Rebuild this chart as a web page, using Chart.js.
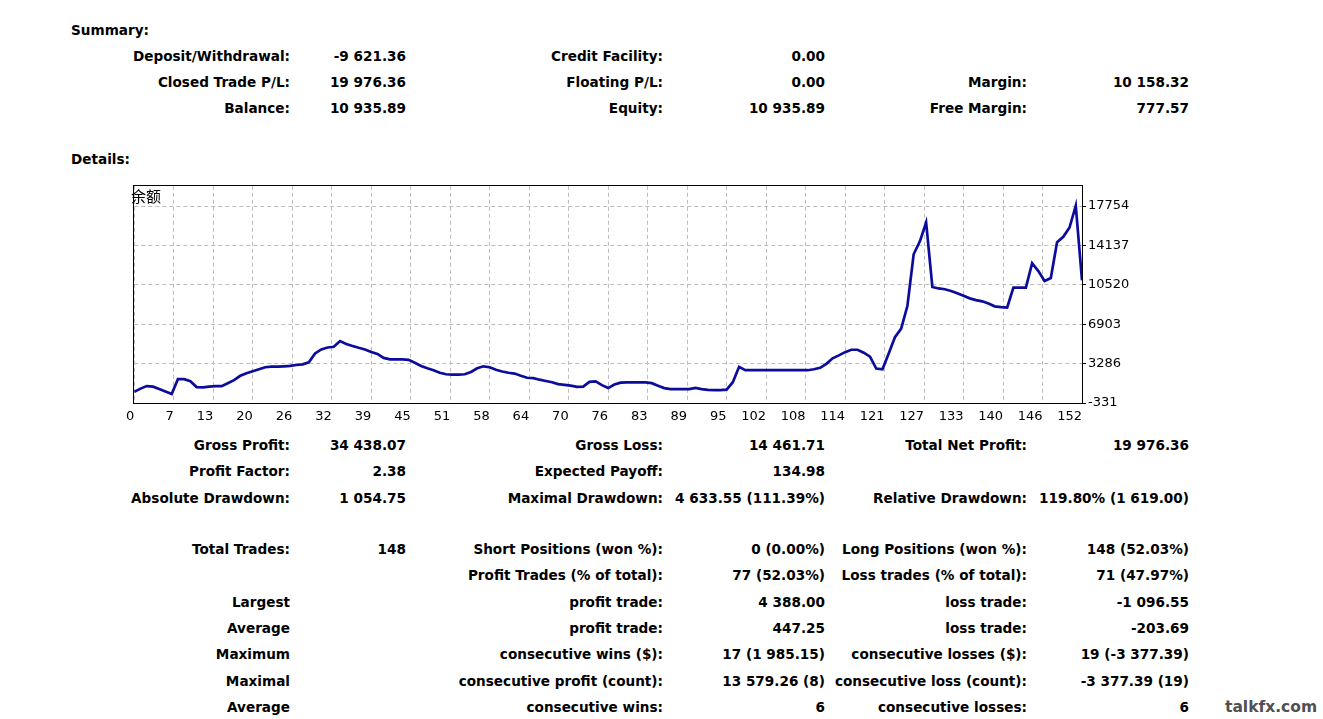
<!DOCTYPE html>
<html lang="en">
<head>
<meta charset="UTF-8">
<title>Statement - Summary</title>
<script src="https://cdn.jsdelivr.net/npm/chart.js@4.4.1/dist/chart.umd.min.js"></script>
<style>
    * { margin: 0; padding: 0; box-sizing: border-box; }
    body {
        width: 1323px;
        height: 719px;
        background: #fff;
        position: relative;
        overflow: hidden;
        font-family: "DejaVu Sans", sans-serif;
    }
    .t {
        position: absolute;
        font-size: 13.6px;
        font-weight: bold;
        line-height: 16px;
        white-space: nowrap;
        color: #000;
    }
    .r { transform: translateX(-100%); }
    .mark { color: #505050; font-size: 15.5px; }
    #chartBox {
        position: absolute;
        left: 120px;
        top: 176px;
        width: 1020px;
        height: 250px;
    }
    #balLabel {
        position: absolute;
        left: 131px;
        top: 186px;
        font: 15px "Noto Sans CJK SC", sans-serif;
        line-height: 19px;
        color: #000;
    }
</style>
</head>
<body>

<div id="text"></div>

<div id="chartBox"><canvas id="balanceChart"></canvas></div>
<div id="balLabel">余额</div>

<script>
    // balance after each operation
    const balance = [
        700, 990, 1220, 1170, 950, 720, 490, 1860, 1860, 1670,
        1130, 1100, 1170, 1220, 1220, 1490, 1770, 2170, 2400, 2580,
        2770, 2950, 3010, 3010, 3040, 3080, 3160, 3220, 3400, 4220,
        4590, 4770, 4830, 5360, 5090, 4910, 4740, 4590, 4360, 4180,
        3810, 3680, 3680, 3680, 3630, 3360, 3070, 2860, 2680, 2450,
        2310, 2280, 2280, 2310, 2520, 2860, 3040, 2950, 2720, 2560,
        2450, 2370, 2170, 1990, 1950, 1810, 1690, 1580, 1400, 1330,
        1260, 1150, 1170, 1610, 1650, 1310, 1040, 1370, 1540, 1560,
        1560, 1560, 1560, 1490, 1260, 1040, 950, 950, 950, 950,
        1050, 950, 870, 850, 850, 900, 1580, 2990, 2680, 2680,
        2680, 2680, 2680, 2680, 2680, 2680, 2680, 2680, 2680, 2770,
        2900, 3270, 3770, 4040, 4340, 4560, 4560, 4290, 3920, 2830,
        2770, 4210, 5710, 6500, 8600, 13330, 14520, 16250, 10330, 10190,
        10120, 9960, 9750, 9510, 9280, 9120, 9010, 8800, 8550, 8480,
        8440, 10260, 10260, 10260, 12510, 11790, 10870, 11150, 14430, 14930,
        15790, 17800, 10936
    ];
    const tradeIdx = balance.map((v, i) => i);

    const xTickLabels = ['0', '7', '13', '20', '26', '32', '39', '45', '51', '58', '64', '70', '76',
        '83', '89', '95', '102', '108', '114', '121', '127', '133', '140', '146', '152'];
    const yTickValues = [-331, 3286, 6903, 10520, 14137, 17754];
    const yMin = -331;
    const yMax = 19620;
    const xMax = 152;

    // statement text: [y, rightEdgeX, text]
    const statementRows = [
        [56, 290, 'Deposit/Withdrawal:'], [56, 406, '-9 621.36'], [56, 663, 'Credit Facility:'], [56, 825, '0.00'],
        [82, 290, 'Closed Trade P/L:'], [82, 406, '19 976.36'], [82, 663, 'Floating P/L:'], [82, 825, '0.00'],
        [82, 1027, 'Margin:'], [82, 1189, '10 158.32'],
        [108, 290, 'Balance:'], [108, 406, '10 935.89'], [108, 663, 'Equity:'], [108, 825, '10 935.89'],
        [108, 1027, 'Free Margin:'], [108, 1189, '777.57'],
        [445, 290, 'Gross Profit:'], [445, 406, '34 438.07'], [445, 663, 'Gross Loss:'], [445, 825, '14 461.71'],
        [445, 1027, 'Total Net Profit:'], [445, 1189, '19 976.36'],
        [471, 290, 'Profit Factor:'], [471, 406, '2.38'], [471, 663, 'Expected Payoff:'], [471, 825, '134.98'],
        [498, 290, 'Absolute Drawdown:'], [498, 406, '1 054.75'], [498, 663, 'Maximal Drawdown:'],
        [498, 825, '4 633.55 (111.39%)'], [498, 1027, 'Relative Drawdown:'], [498, 1189, '119.80% (1 619.00)'],
        [549, 290, 'Total Trades:'], [549, 406, '148'], [549, 663, 'Short Positions (won %):'], [549, 825, '0 (0.00%)'],
        [549, 1027, 'Long Positions (won %):'], [549, 1189, '148 (52.03%)'],
        [575, 663, 'Profit Trades (% of total):'], [575, 825, '77 (52.03%)'],
        [575, 1027, 'Loss trades (% of total):'], [575, 1189, '71 (47.97%)'],
        [602, 290, 'Largest'], [602, 663, 'profit trade:'], [602, 825, '4 388.00'],
        [602, 1027, 'loss trade:'], [602, 1189, '-1 096.55'],
        [628, 290, 'Average'], [628, 663, 'profit trade:'], [628, 825, '447.25'],
        [628, 1027, 'loss trade:'], [628, 1189, '-203.69'],
        [654, 290, 'Maximum'], [654, 663, 'consecutive wins ($):'], [654, 825, '17 (1 985.15)'],
        [654, 1027, 'consecutive losses ($):'], [654, 1189, '19 (-3 377.39)'],
        [681, 290, 'Maximal'], [681, 663, 'consecutive profit (count):'], [681, 825, '13 579.26 (8)'],
        [681, 1027, 'consecutive loss (count):'], [681, 1189, '-3 377.39 (19)'],
        [707, 290, 'Average'], [707, 663, 'consecutive wins:'], [707, 825, '6'],
        [707, 1027, 'consecutive losses:'], [707, 1189, '6']
    ];

    const box = document.getElementById('text');
    function addText(txt, x, y, cls) {
        const d = document.createElement('div');
        d.className = 't ' + (cls || '');
        d.textContent = txt;
        d.style.left = x + 'px';
        d.style.top = (y - 8) + 'px';
        box.appendChild(d);
    }
    addText('Summary:', 71, 30);
    addText('Details:', 71, 159);
    statementRows.forEach(r => addText(r[2], r[1], r[0], 'r'));
    addText('talkfx.com', 1225, 707, 'mark');

    const framePlugin = {
        id: 'frame',
        afterDraw(chart) {
            const a = chart.chartArea;
            const ctx = chart.ctx;
            ctx.save();
            ctx.strokeStyle = '#000';
            ctx.lineWidth = 1;
            ctx.strokeRect(Math.round(a.left) - 0.5, Math.round(a.top) - 0.5,
                Math.round(a.right - a.left) + 1, Math.round(a.bottom - a.top) + 1);
            ctx.restore();
        }
    };

    new Chart(document.getElementById('balanceChart'), {
        type: 'line',
        data: {
            labels: tradeIdx,
            datasets: [{
                data: balance.map((v, i) => ({ x: tradeIdx[i], y: v })),
                borderColor: '#0c0c9c',
                borderWidth: 2.7,
                pointRadius: 0,
                tension: 0,
                fill: false
            }]
        },
        options: {
            responsive: true,
            maintainAspectRatio: false,
            animation: false,
            layout: { padding: { left: 8, top: 8, right: 0, bottom: 0 } },
            plugins: {
                legend: { display: false },
                tooltip: { enabled: false }
            },
            scales: {
                x: {
                    type: 'linear',
                    min: 0,
                    max: xMax,
                    afterBuildTicks: s => { s.ticks = xTickLabels.map((t, k) => ({ value: k * xMax / (xTickLabels.length - 1) })); },
                    afterFit: s => { s.height = 23; },
                    grid: { color: '#bdbdbd', lineWidth: 1, drawTicks: false },
                    border: { display: false, dash: [4, 3] },
                    ticks: {
                        autoSkip: false,
                        maxRotation: 0,
                        align: 'end',
                        padding: 6,
                        color: '#000',
                        font: { family: 'DejaVu Sans', size: 13 },
                        callback: (v, i) => xTickLabels[i]
                    }
                },
                y: {
                    position: 'right',
                    min: yMin,
                    max: yMax,
                    afterBuildTicks: s => { s.ticks = yTickValues.map(v => ({ value: v })); },
                    afterFit: s => { s.width = 58; },
                    grid: { color: '#bdbdbd', lineWidth: 1, drawTicks: true, tickLength: 4, tickColor: '#000' },
                    border: { display: false, dash: [4, 3] },
                    ticks: {
                        padding: 2,
                        color: '#000',
                        font: { family: 'DejaVu Sans', size: 13 },
                        callback: v => String(v)
                    }
                }
            }
        },
        plugins: [framePlugin]
    });
</script>
</body>
</html>
